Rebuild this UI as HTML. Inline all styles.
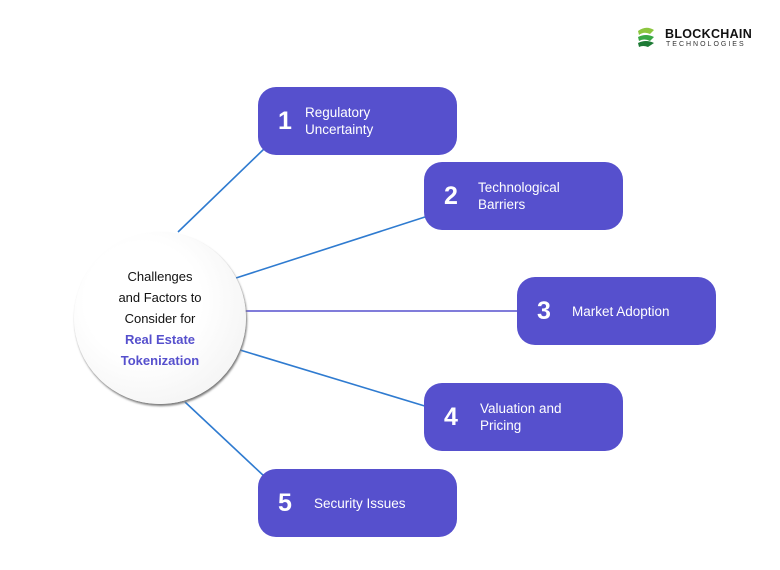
<!DOCTYPE html>
<html><head><meta charset="utf-8"><style>
html,body{margin:0;padding:0;background:#fff;}
body{width:780px;height:570px;position:relative;overflow:hidden;font-family:"Liberation Sans",sans-serif;}
.b{position:absolute;width:199px;height:68px;background:#5650cd;border-radius:18px;color:#fff;}
.n{position:absolute;left:20px;top:0;height:68px;line-height:68px;font-size:25px;font-weight:bold;}
.t{position:absolute;left:47px;top:0;height:68px;display:flex;align-items:center;font-size:13.5px;line-height:17px;}
.c{position:absolute;left:74px;top:232px;width:172px;height:172px;border-radius:50%;background:radial-gradient(circle at 40% 40%,#fff 40%,#eee 100%);box-shadow:1px 2px 2px #777;display:flex;align-items:center;justify-content:center;text-align:center;font-size:13px;line-height:21px;color:#111;}
</style></head><body>
<svg width="780" height="570" style="position:absolute;left:0;top:0">
<g stroke="#2f7bd0" stroke-width="1.6">
<line x1="178" y1="232" x2="265" y2="148"/>
<line x1="236" y1="278" x2="428" y2="216"/>
<line x1="240" y1="350" x2="428" y2="407"/>
<line x1="185" y1="402" x2="265" y2="477"/>
</g>
<line x1="244" y1="311" x2="518" y2="311" stroke="#5650cd" stroke-width="1.6"/>
<g transform="translate(636,27)">
<path d="M2 4 Q10 -2 18 3 L14 7 Q8 4 3 8Z" fill="#8cc63f"/>
<path d="M2 10 Q10 6 18 10 L14 14 Q8 11 3 14Z" fill="#39a845"/>
<path d="M2 16 Q10 12 18 16 L12 20 Q7 18 3 20Z" fill="#1d7a35"/>
</g>
</svg>
<div style="position:absolute;left:665px;top:27px;font-size:12.5px;font-weight:bold;color:#111;letter-spacing:0.3px">BLOCKCHAIN</div>
<div style="position:absolute;left:666px;top:41px;font-size:7px;color:#333;letter-spacing:2px">TECHNOLOGIES</div>
<div class="c"><div>Challenges<br>and Factors to<br>Consider for<br><b style="color:#5650cd">Real Estate<br>Tokenization</b></div></div>
<div class="b" style="left:258px;top:87px"><div class="n">1</div><div class="t">Regulatory<br>Uncertainty</div></div>
<div class="b" style="left:424px;top:162px"><div class="n">2</div><div class="t" style="left:54px">Technological<br>Barriers</div></div>
<div class="b" style="left:517px;top:277px"><div class="n">3</div><div class="t" style="left:55px">Market Adoption</div></div>
<div class="b" style="left:424px;top:383px"><div class="n">4</div><div class="t" style="left:56px">Valuation and<br>Pricing</div></div>
<div class="b" style="left:258px;top:469px"><div class="n">5</div><div class="t" style="left:56px">Security Issues</div></div>
</body></html>
